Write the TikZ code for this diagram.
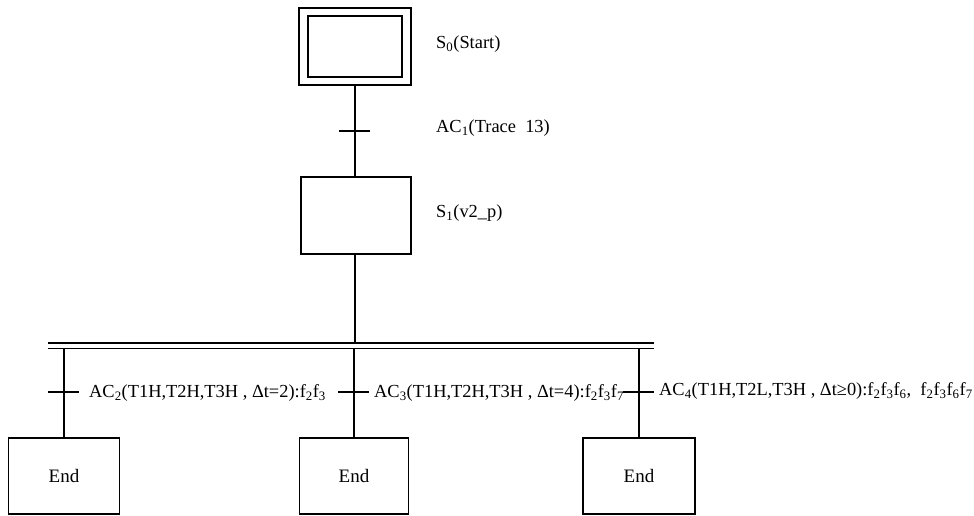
\documentclass[tikz,border=0pt]{standalone}
\usepackage{fontspec}
\setmainfont{Liberation Serif}
\begin{document}
\begin{tikzpicture}[x=1pt,y=-1pt,
  box/.style={draw,line width=1.8pt,inner sep=0pt},
  ln/.style={line width=1.8pt},
  lbl/.style={anchor=west,inner sep=0pt,font=\fontsize{18.4}{22}\selectfont},
  endtxt/.style={font=\fontsize{19}{22}\selectfont}]
\useasboundingbox (0,0) rectangle (974,515);
% states
\node[box,minimum width=112pt,minimum height=77pt] (s0) at (355,46.5) {};
\node[box,minimum width=94pt,minimum height=61pt] (s0in) at (355,46.5) {};
\node[box,minimum width=110pt,minimum height=77pt] (s1) at (356,215.5) {};
\node[box,minimum width=111pt,minimum height=76pt,endtxt] (e1) at (64,476) {End};
\node[box,minimum width=109pt,minimum height=76pt,endtxt] (e2) at (354,476) {End};
\node[box,minimum width=112pt,minimum height=76pt,endtxt] (e3) at (639,476) {End};
% labels
\node[lbl] (l0) at (436,44) {S\textsubscript{0}(Start)};
\node[lbl] (l1) at (436,128) {AC\textsubscript{1}(Trace\ \ 13)};
\node[lbl] (l2) at (436,213) {S\textsubscript{1}(v2\_p)};
% main connectors
\coordinate (t1) at (355,131);
\draw[ln] (s0.south -| t1) -- (s1.north -| t1);
\draw[ln] ([xshift=-16pt]t1) -- ([xshift=15pt]t1);
% parallel bar
\coordinate (ba) at (48,343);
\coordinate (bb) at (654,343);
\coordinate (bc) at (48,348.5);
\coordinate (bd) at (654,348.5);
\draw[ln] (ba) -- (bb);
\draw[ln] (bc) -- (bd);
\draw[ln] (s1.south -| t1) -- (t1 |- ba);
% branches
\coordinate (t2) at (64,392);
\coordinate (t3) at (354,392);
\coordinate (t4) at (639,392);
\draw[ln] (t2 |- bc) -- (e1.north);
\draw[ln] (t3 |- bc) -- (e2.north);
\draw[ln] (t4 |- bc) -- (e3.north);
\draw[ln] ([xshift=-16pt]t2) -- ([xshift=15pt]t2);
\draw[ln] ([xshift=-16pt]t3) -- ([xshift=15pt]t3);
\draw[ln] ([xshift=-16pt]t4) -- ([xshift=15pt]t4);
\node[lbl] (l3) at (89,393) {AC\textsubscript{2}(T1H,T2H,T3H , Δt=2):f\textsubscript{2}f\textsubscript{3}};
\node[lbl] (l4) at (374,393) {AC\textsubscript{3}(T1H,T2H,T3H , Δt=4):f\textsubscript{2}f\textsubscript{3}f\textsubscript{7}};
\node[lbl] (l5) at (659,391) {AC\textsubscript{4}(T1H,T2L,T3H , Δt≥0):f\textsubscript{2}f\textsubscript{3}f\textsubscript{6},\ \ f\textsubscript{2}f\textsubscript{3}f\textsubscript{6}f\textsubscript{7}};
\end{tikzpicture}
\end{document}
